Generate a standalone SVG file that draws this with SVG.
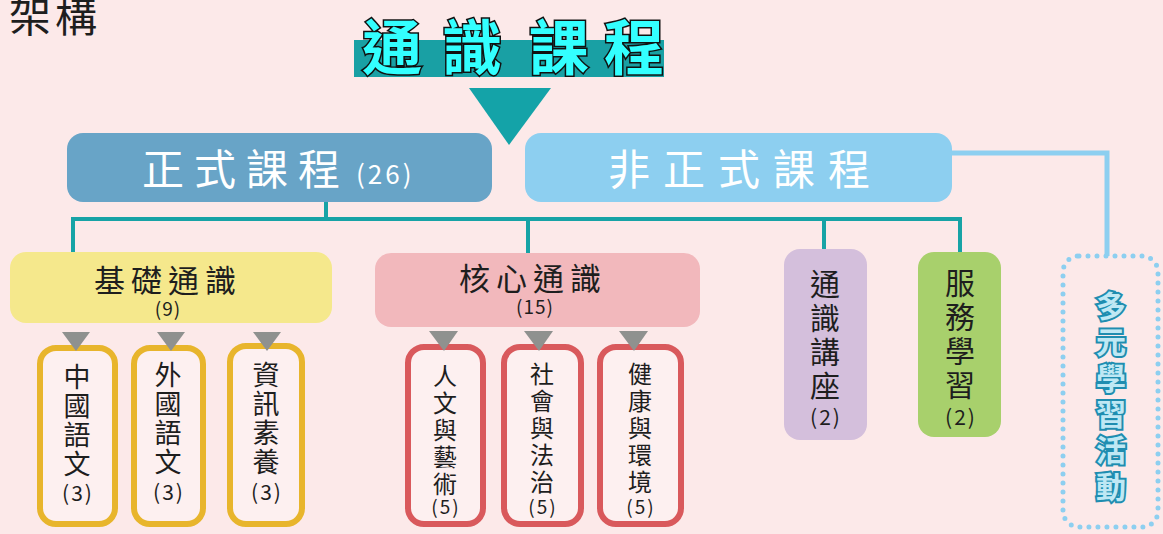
<svg xmlns="http://www.w3.org/2000/svg" width="1163" height="534" viewBox="0 0 1163 534">
<defs>
<style>
.cjk{font-family:"Noto Sans CJK TC","Noto Sans CJK SC",sans-serif;}
.wt{fill:#ffffff;}
.bk{fill:#1e1e1e;}
.conn{stroke:#17a3a6;stroke-width:4;fill:none;}
.tri{fill:#8f918f;}
.ybox{fill:#fdf0f0;stroke:#e8b52c;stroke-width:6;}
.rbox{fill:#fdf0f0;stroke:#d9595c;stroke-width:6;}
</style>
</defs>
<rect x="0" y="0" width="1163" height="534" fill="#fce9e9"/>

<text x="9" y="32" class="cjk bk" font-size="42" letter-spacing="4">架構</text>

<g id="title">
<rect x="354" y="40" width="310" height="37" fill="#19a0a4"/>
<g class="cjk" font-size="60" font-weight="bold" fill="#33ffff" stroke="#111" stroke-width="3" paint-order="stroke" text-anchor="middle">
<text x="392" y="70">通</text>
<text x="472" y="70">識</text>
<text x="559" y="70">課</text>
<text x="634" y="70">程</text>
</g>
<polygon points="469,88 551,88 509,145" fill="#14a3a8"/>
</g>

<g id="connectors">
<line class="conn" x1="326" y1="202" x2="326" y2="220"/>
<polyline class="conn" points="73,254 73,219 960,219 960,252"/>
<line class="conn" x1="528" y1="219" x2="528" y2="254"/>
<line class="conn" x1="824" y1="219" x2="824" y2="250"/>
<polyline points="952,153 1107,153 1107,256" fill="none" stroke="#8dcff0" stroke-width="5"/>
</g>

<g id="formal">
<rect x="67" y="133" width="425" height="69" rx="16" fill="#68a4c7"/>
<text x="142" y="185" class="cjk wt" font-size="42" letter-spacing="10">正式課程</text>
<text x="356" y="184" class="cjk wt" font-size="26" letter-spacing="3">(26)</text>
</g>

<g id="informal">
<rect x="525" y="133" width="427" height="69" rx="16" fill="#8dcff0"/>
<text x="608" y="185" class="cjk wt" font-size="42" letter-spacing="13">非正式課程</text>
</g>

<g id="basic">
<rect x="10" y="252" width="322" height="71" rx="16" fill="#f5e88c"/>
<text x="94" y="292" class="cjk bk" font-size="31" letter-spacing="6">基礎通識</text>
<text x="168" y="316" class="cjk bk" font-size="19" text-anchor="middle" letter-spacing="1">(9)</text>
</g>

<g id="core">
<rect x="375" y="253" width="325" height="74" rx="16" fill="#f2b8bc"/>
<text x="459" y="290" class="cjk bk" font-size="31" letter-spacing="6">核心通識</text>
<text x="535" y="314" class="cjk bk" font-size="19" text-anchor="middle" letter-spacing="1">(15)</text>
</g>

<g id="chinese">
<rect class="ybox" x="40" y="348" width="75" height="176" rx="16"/>
<polygon class="tri" points="62,332 90,332 76,351"/>
<text class="cjk bk" font-size="27" text-anchor="middle"><tspan x="77" y="387">中</tspan><tspan x="77" y="416">國</tspan><tspan x="77" y="445">語</tspan><tspan x="77" y="474">文</tspan></text>
<text x="78" y="501" class="cjk bk" font-size="21" text-anchor="middle" letter-spacing="2">(3)</text>
</g>

<g id="foreign">
<rect class="ybox" x="134" y="348" width="69" height="176" rx="16"/>
<polygon class="tri" points="157,332 185,332 171,351"/>
<text class="cjk bk" font-size="27" text-anchor="middle"><tspan x="168" y="385">外</tspan><tspan x="168" y="414">國</tspan><tspan x="168" y="443">語</tspan><tspan x="168" y="472">文</tspan></text>
<text x="169" y="500" class="cjk bk" font-size="21" text-anchor="middle" letter-spacing="2">(3)</text>
</g>

<g id="info">
<rect class="ybox" x="230" y="346" width="72" height="178" rx="16"/>
<polygon class="tri" points="253,332 281,332 267,351"/>
<text class="cjk bk" font-size="27" text-anchor="middle"><tspan x="266" y="385">資</tspan><tspan x="266" y="414">訊</tspan><tspan x="266" y="443">素</tspan><tspan x="266" y="472">養</tspan></text>
<text x="267" y="500" class="cjk bk" font-size="21" text-anchor="middle" letter-spacing="2">(3)</text>
</g>

<g id="humanities">
<rect class="rbox" x="408" y="347" width="75" height="177" rx="16"/>
<polygon class="tri" points="429,331 458,331 444,351"/>
<text class="cjk bk" font-size="24" text-anchor="middle"><tspan x="445" y="385">人</tspan><tspan x="445" y="412">文</tspan><tspan x="445" y="439">與</tspan><tspan x="445" y="466">藝</tspan><tspan x="445" y="493">術</tspan></text>
<text x="446" y="514" class="cjk bk" font-size="19" text-anchor="middle" letter-spacing="2">(5)</text>
</g>

<g id="society">
<rect class="rbox" x="504" y="347" width="77" height="177" rx="16"/>
<polygon class="tri" points="524,331 553,331 539,351"/>
<text class="cjk bk" font-size="24" text-anchor="middle"><tspan x="542" y="383">社</tspan><tspan x="542" y="410">會</tspan><tspan x="542" y="437">與</tspan><tspan x="542" y="464">法</tspan><tspan x="542" y="491">治</tspan></text>
<text x="543" y="514" class="cjk bk" font-size="19" text-anchor="middle" letter-spacing="2">(5)</text>
</g>

<g id="health">
<rect class="rbox" x="600" y="347" width="81" height="177" rx="16"/>
<polygon class="tri" points="619,331 648,331 634,351"/>
<text class="cjk bk" font-size="24" text-anchor="middle"><tspan x="640" y="383">健</tspan><tspan x="640" y="410">康</tspan><tspan x="640" y="437">與</tspan><tspan x="640" y="464">環</tspan><tspan x="640" y="491">境</tspan></text>
<text x="641" y="514" class="cjk bk" font-size="19" text-anchor="middle" letter-spacing="2">(5)</text>
</g>

<g id="lecture">
<rect x="784" y="249" width="83" height="191" rx="16" fill="#d4bfdc"/>
<text class="cjk bk" font-size="30" text-anchor="middle"><tspan x="825" y="295">通</tspan><tspan x="825" y="329">識</tspan><tspan x="825" y="363">講</tspan><tspan x="825" y="397">座</tspan></text>
<text x="826" y="425" class="cjk bk" font-size="21" text-anchor="middle" letter-spacing="2">(2)</text>
</g>

<g id="service">
<rect x="918" y="252" width="83" height="185" rx="16" fill="#a8d06c"/>
<text class="cjk bk" font-size="30" text-anchor="middle"><tspan x="960" y="294">服</tspan><tspan x="960" y="328">務</tspan><tspan x="960" y="362">學</tspan><tspan x="960" y="396">習</tspan></text>
<text x="961" y="425" class="cjk bk" font-size="21" text-anchor="middle" letter-spacing="2">(2)</text>
</g>

<g id="diverse">
<rect x="1063" y="256" width="95" height="271" rx="16" fill="none" stroke="#8dcff0" stroke-width="5" stroke-linecap="round" stroke-dasharray="0 9"/>
<text class="cjk" font-size="30" font-weight="bold" text-anchor="middle" fill="#bfe8f4" stroke="#1f8db0" stroke-width="4" paint-order="stroke"><tspan x="1111" y="317">多</tspan><tspan x="1111" y="353">元</tspan><tspan x="1111" y="389">學</tspan><tspan x="1111" y="425">習</tspan><tspan x="1111" y="461">活</tspan><tspan x="1111" y="498">動</tspan></text>
</g>
</svg>
